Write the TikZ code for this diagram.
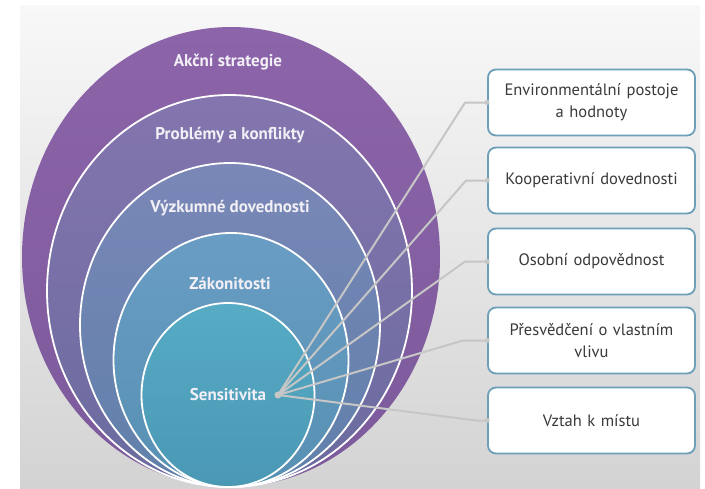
\documentclass[tikz,border=0pt]{standalone}
\usepackage{fontspec}
\setmainfont{PT Sans}
\definecolor{bgtop}{HTML}{F8F8F8}
\definecolor{bgmid}{HTML}{EBEBEB}
\definecolor{bgbot}{HTML}{D3D3D3}
\definecolor{eAt}{HTML}{8C64A9}\definecolor{eAb}{HTML}{7C5A9B}
\definecolor{eBt}{HTML}{8475AE}\definecolor{eBb}{HTML}{6A6B9F}
\definecolor{eCt}{HTML}{7A87B7}\definecolor{eCb}{HTML}{5F80AA}
\definecolor{eDt}{HTML}{6A9DC4}\definecolor{eDb}{HTML}{5690B2}
\definecolor{eEt}{HTML}{57ABC4}\definecolor{eEb}{HTML}{4A98B4}
\definecolor{boxline}{HTML}{6E9FB8}
\definecolor{conncol}{HTML}{C6C6C6}
\definecolor{txt}{HTML}{3A3A3A}
\definecolor{lbl}{HTML}{F2F0F6}
\begin{document}
\begin{tikzpicture}[x=1pt,y=-1pt,
  ring/.style={draw=white, line width=1.8pt},
  lab/.style={text=lbl, font=\fontsize{17}{19}\selectfont\bfseries, inner sep=0pt},
  infobox/.style={draw=boxline, line width=1.8pt, fill=white, rounded corners=8pt,
    minimum width=207pt, minimum height=66pt, text width=200pt, align=center,
    text=txt, font=\fontsize{16.5}{22}\selectfont},
  conn/.style={draw=conncol, line width=2pt, line join=round},
  blob/.style={circle, fill=conncol, inner sep=0pt, minimum size=5pt}]
\useasboundingbox (0,0) rectangle (705,488);
\fill[white] (0,0) rectangle (705,488);
\shade[top color=bgtop, middle color=bgmid, bottom color=bgbot] (20,5) rectangle (700,488);
% rings
\shade[top color=eAt, bottom color=eAb] (231,257) ellipse [x radius=209, y radius=230];
\path[ring, top color=eBt, bottom color=eBb] (229.5,291) ellipse [x radius=182.5, y radius=196];
\path[ring, top color=eCt, bottom color=eCb] (230,325) ellipse [x radius=150, y radius=162];
\path[ring, top color=eDt, bottom color=eDb] (231,360) ellipse [x radius=117.5, y radius=127];
\path[ring, top color=eEt, bottom color=eEb] (228,395) ellipse [x radius=86.5, y radius=92];
% labels
\node[lab] (l1) at (228,62) {Akční strategie};
\node[lab] (l2) at (230,135) {Problémy a konflikty};
\node[lab] (l3) at (230,208) {Výzkumné dovednosti};
\node[lab] (l4) at (230,283) {Zákonitosti};
\node[lab] (l5) at (228,395) {Sensitivita};
% boxes
\node[infobox] (b1) at (591.5,102.5) {Environmentální postoje\\a hodnoty};
\node[infobox] (b2) at (591.5,180.5) {Kooperativní dovednosti};
\node[infobox] (b3) at (591.5,261.5) {Osobní odpovědnost};
\node[infobox] (b4) at (591.5,340.5) {Přesvědčení o vlastním\\vlivu};
\node[infobox] (b5) at (591.5,420.5) {Vztah k místu};
% source dot
\node[blob, minimum size=7pt] (s) at (278,395) {};
% connectors
\draw[conn] (s.center) -- ([xshift=-22pt]b1.west) -- (b1.west);
\draw[conn] (s.center) -- ([xshift=-21pt]b2.west) -- (b2.west);
\draw[conn] (s.center) -- ([xshift=-22pt]b3.west) -- (b3.west);
\draw[conn] (s.center) -- ([xshift=-24pt]b4.west) -- (b4.west);
\draw[conn] (s.center) -- ([xshift=-11pt]b5.west) -- (b5.west);
\foreach \b in {b1,b2,b3,b4,b5} \node[blob] at (\b.west) {};
\end{tikzpicture}
\end{document}
